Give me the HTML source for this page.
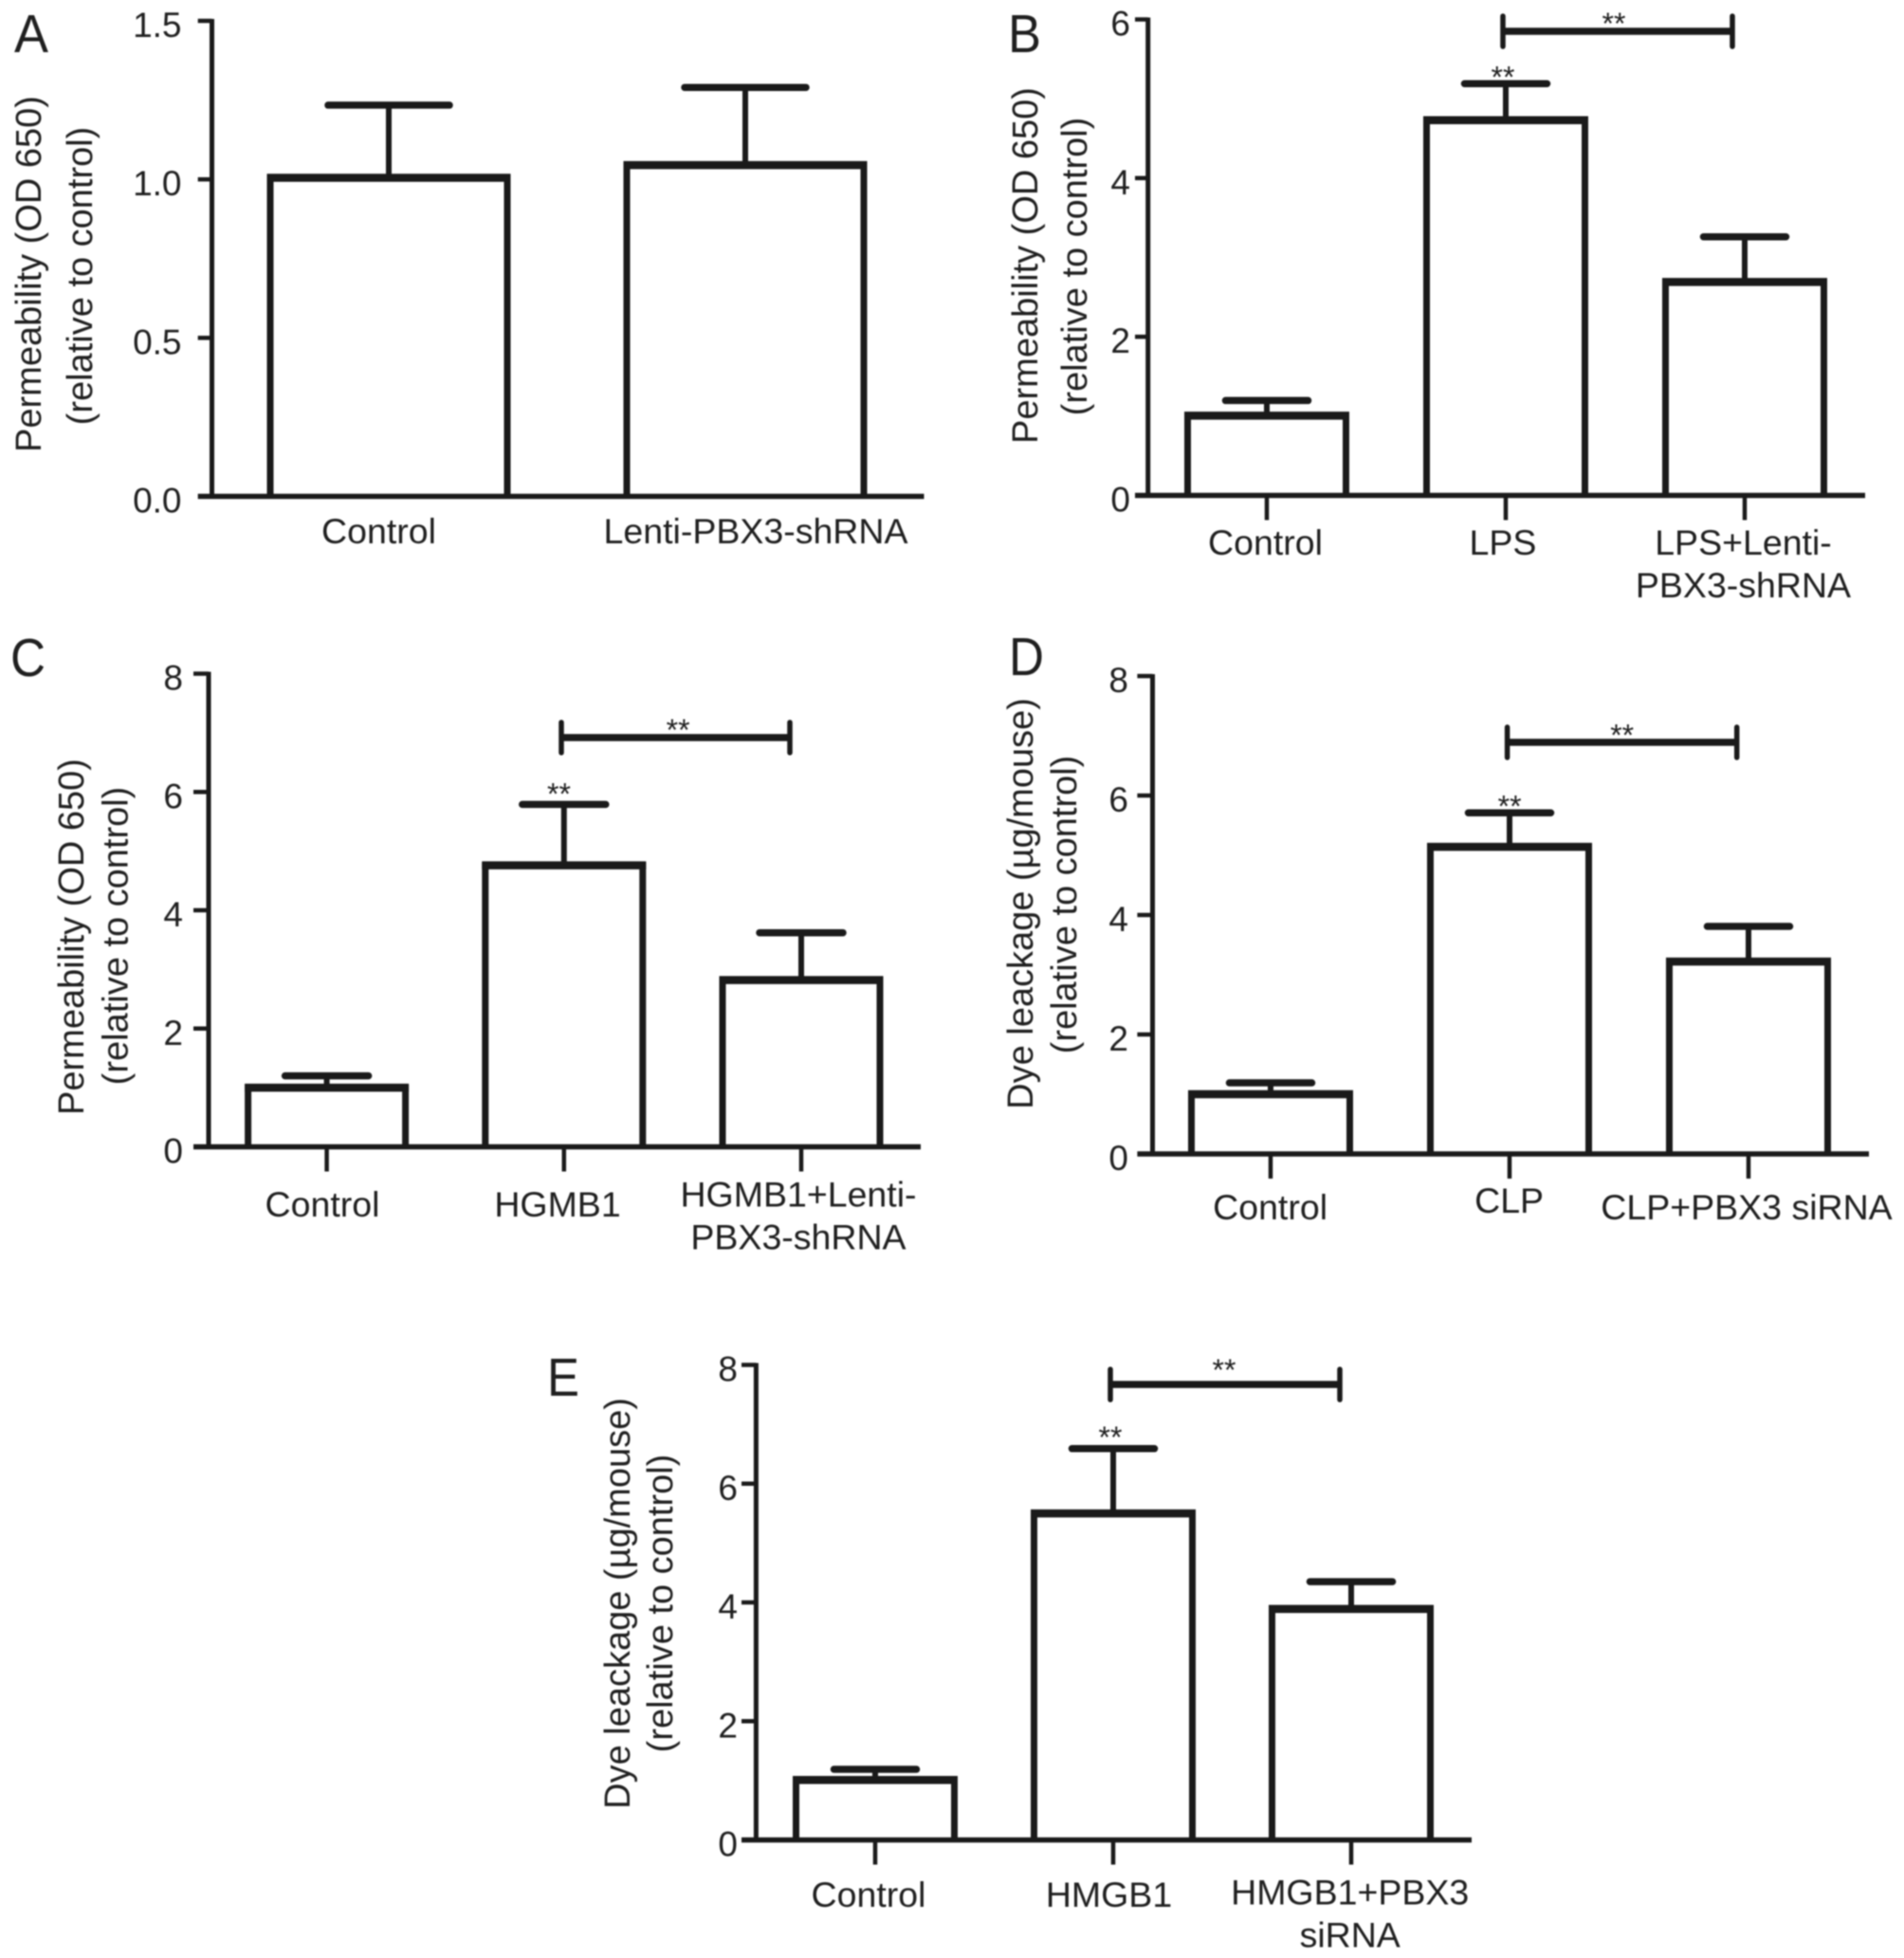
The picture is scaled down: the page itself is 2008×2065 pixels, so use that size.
<!DOCTYPE html>
<html lang="en">
<head>
<meta charset="utf-8">
<title>Permeability and dye leakage bar charts</title>
<style>
html,body{margin:0;padding:0;background:#fff;}
#figure{display:block;width:2008px;height:2065px;filter:blur(0.7px);}
text{font-family:"Liberation Sans",sans-serif;fill:#1f1f1f;}
</style>
</head>
<body>
<svg id="figure" xmlns="http://www.w3.org/2000/svg" width="2008" height="2065" viewBox="0 0 2008 2065"></svg>
<script>
// ---- Panel A data ----
const panelACategories = ['Control', 'Lenti-PBX3-shRNA'];
const panelAMeans = [1.005, 1.045];
const panelAErrorTops = [1.234, 1.29];
const panelATicks = ['0.0', '0.5', '1.0', '1.5'];

// ---- Panel B data ----
const panelBCategories = ['Control', 'LPS', 'LPS+Lenti-\nPBX3-shRNA'];
const panelBMeans = [1.005, 4.73, 2.69];
const panelBErrorTops = [1.196, 5.19, 3.26];
const panelBTicks = ['0', '2', '4', '6'];
const panelBBracketLevel = 5.85;

// ---- Panel C data ----
const panelCCategories = ['Control', 'HGMB1', 'HGMB1+Lenti-\nPBX3-shRNA'];
const panelCMeans = [1.0, 4.76, 2.82];
const panelCErrorTops = [1.2, 5.79, 3.62];
const panelCTicks = ['0', '2', '4', '6', '8'];
const panelCBracketLevel = 6.92;

// ---- Panel D data ----
const panelDCategories = ['Control', 'CLP', 'CLP+PBX3 siRNA'];
const panelDMeans = [1.0, 5.14, 3.22];
const panelDErrorTops = [1.19, 5.71, 3.81];
const panelDTicks = ['0', '2', '4', '6', '8'];
const panelDBracketLevel = 6.89;

// ---- Panel E data ----
const panelECategories = ['Control', 'HMGB1', 'HMGB1+PBX3\nsiRNA'];
const panelEMeans = [1.01, 5.5, 3.89];
const panelEErrorTops = [1.19, 6.59, 4.35];
const panelETicks = ['0', '2', '4', '6', '8'];
const panelEBracketLevel = 7.67;

const titlePermeability = ['Permeability (OD 650)', '(relative to control)'];
const titleDye = ['Dye leackage (\u00b5g/mouse)', '(relative to control)'];

const svg = document.getElementById('figure');
const NS = 'http://www.w3.org/2000/svg';
const INK = '#1a1a1a';

function line(parent, x1, y1, x2, y2, w, cap) {
  const l = document.createElementNS(NS, 'line');
  l.setAttribute('x1', x1);
  l.setAttribute('y1', y1);
  l.setAttribute('x2', x2);
  l.setAttribute('y2', y2);
  l.setAttribute('stroke', INK);
  l.setAttribute('stroke-width', w);
  l.setAttribute('stroke-linecap', cap || 'butt');
  parent.appendChild(l);
  return l;
}
function label(parent, str, x, y, size, anchor) {
  const t = document.createElementNS(NS, 'text');
  t.setAttribute('x', x);
  t.setAttribute('y', y);
  t.setAttribute('font-size', size);
  t.setAttribute('text-anchor', anchor || 'middle');
  t.textContent = str;
  parent.appendChild(t);
  return t;
}
function group(parent, name) {
  const g = document.createElementNS(NS, 'g');
  
  
  parent.appendChild(g);
  return g;
}

function drawPanel(p) {
  const root = group(svg, 'panel-' + p.id);
  const tickValues = p.ticks.map(Number);
  const yMax = Math.max.apply(null, tickValues);
  const yScale = v => p.y0 - (v / yMax) * (p.y0 - p.yTop);
  const xScale = i => p.x0 + i * p.step;

  // panel letter
  const letter = label(root, p.id.toUpperCase(), p.letterX, p.letterY, 57, 'start');
  letter.setAttribute('textLength', p.letterW);
  letter.setAttribute('lengthAdjust', 'spacingAndGlyphs');
  
  

  // y axis title
  p.title.forEach((str, i) => {
    const t = label(root, str, 0, 0, 38);
    t.setAttribute('transform', 'translate(' + p.titleX[i] + ',' + p.titleY[i] + ') rotate(-90)');
    
    
  });

  // bars, error bars
  p.means.forEach((m, i) => {
    const cx = xScale(i);
    const g = group(root, 'bar-' + (i + 1));
    const r = document.createElementNS(NS, 'path');
    const left = cx - p.barW / 2, right = cx + p.barW / 2;
    r.setAttribute('d', 'M' + left + ' ' + p.y0 + 'V' + yScale(m) + 'H' + right + 'V' + p.y0);
    r.setAttribute('fill', '#fff');
    r.setAttribute('stroke', INK);
    r.setAttribute('stroke-width', 7);
    r.setAttribute('stroke-linejoin', 'miter');
    
    
    g.appendChild(r);
    const top = line(g, left - 3.5, yScale(m), right + 3.5, yScale(m), 8.5);
    
    
    const stem = line(g, cx, yScale(p.errs[i]), cx, yScale(m), 6);
    
    
    const capLine = line(g, cx - p.capW / 2, yScale(p.errs[i]), cx + p.capW / 2, yScale(p.errs[i]), 7.5, 'round');
    
    
  });

  // axes
  const yAxis = line(root, p.axisX, p.yTop - 2, p.axisX, p.y0, 5);
  
  
  const xAxis = line(root, p.tickLeft, p.y0, p.xEnd, p.y0, 5.5);
  
  

  // y ticks and labels
  p.ticks.forEach((tick, i) => {
    const y = yScale(tickValues[i]);
    if (i > 0) {
      const t = line(root, p.tickLeft, y, p.axisX, y, 4.5);
      
      
    }
    const txt = label(root, tick, p.tickLabelX, y + 17, 37, 'end');
    
    
  });

  // x ticks and category labels
  p.categories.forEach((cat, i) => {
    if (p.xTickLen) {
      const t = line(root, xScale(i), p.y0, xScale(i), p.y0 + p.xTickLen, 4.5);
      
      
    }
    cat.split('\n').forEach((ln, k) => {
      const txt = label(root, ln, xScale(i) + p.catDx[i], p.catY[i] + k * 45, 37.5);
      
      
    });
  });

  // significance marks
  if (p.bracketLevel !== undefined) {
    const by = yScale(p.bracketLevel);
    const bg = group(root, 'significance-bracket');
    const bx1 = xScale(1) + p.bracketDx[0], bx2 = xScale(2) + p.bracketDx[1];
    line(bg, bx1, by, bx2, by, 7.5);
    line(bg, bx1, by - 16, bx1, by + 16, 5.5, 'round');
    line(bg, bx2, by - 16, bx2, by + 16, 5.5, 'round');
    const s1 = label(bg, '**', (bx1 + bx2) / 2 + p.starDx[0], by - p.bracketStarGap + 18, 32);
    
    
    const s2 = label(root, '**', xScale(1) + p.bracketDx[0] + p.starDx[1], yScale(p.errs[1]) - p.barStarGap + 18, 32);
    
    
  }
}

drawPanel({ id: 'a', categories: panelACategories, means: panelAMeans, errs: panelAErrorTops, ticks: panelATicks, title: titlePermeability,
  y0: 523.5, yTop: 22, x0: 410, step: 376, barW: 250, capW: 128, axisX: 223.5, tickLeft: 208.7, xEnd: 974.5, tickLabelX: 191.5, xTickLen: 0,
  catDx: [-10.5, 11], catY: [573, 573], titleX: [43, 97], titleY: [289, 291], letterX: 15, letterY: 55, letterW: 36 });

drawPanel({ id: 'b', categories: panelBCategories, means: panelBMeans, errs: panelBErrorTops, ticks: panelBTicks, title: titlePermeability, bracketLevel: panelBBracketLevel,
  y0: 522.5, yTop: 20.5, x0: 1336, step: 252, barW: 167, capW: 87, axisX: 1210.7, tickLeft: 1197, xEnd: 1967, tickLabelX: 1192, xTickLen: 26,
  catDx: [-1.5, -3, -1.5], catY: [585, 585, 585], titleX: [1094, 1146], titleY: [280, 281], letterX: 1063, letterY: 55, letterW: 35,
  bracketDx: [-3, -13], starDx: [-4, 0], bracketStarGap: 15, barStarGap: 14 });

drawPanel({ id: 'c', categories: panelCCategories, means: panelCMeans, errs: panelCErrorTops, ticks: panelCTicks, title: titlePermeability, bracketLevel: panelCBracketLevel,
  y0: 1209.5, yTop: 710.5, x0: 344.6, step: 250.2, barW: 166, capW: 88, axisX: 220, tickLeft: 204, xEnd: 971, tickLabelX: 193, xTickLen: 26,
  catDx: [-4.6, -6.8, -3], catY: [1283, 1283, 1272.5], titleX: [88, 134.5], titleY: [988, 987], letterX: 11, letterY: 713, letterW: 37,
  bracketDx: [-2.8, -12], starDx: [2.6, -2.5], bracketStarGap: 15, barStarGap: 18 });

drawPanel({ id: 'd', categories: panelDCategories, means: panelDMeans, errs: panelDErrorTops, ticks: panelDTicks, title: titleDye, bracketLevel: panelDBracketLevel,
  y0: 1217, yTop: 713, x0: 1340, step: 252, barW: 167, capW: 87, axisX: 1215.5, tickLeft: 1199.4, xEnd: 1971, tickLabelX: 1190, xTickLen: 26,
  catDx: [-0.4, -0.4, -2], catY: [1286, 1279, 1286], titleX: [1089, 1135], titleY: [953, 954], letterX: 1064, letterY: 712, letterW: 37,
  bracketDx: [-2.4, -12.3], starDx: [0, 2.5], bracketStarGap: 14.5, barStarGap: 14 });

drawPanel({ id: 'e', categories: panelECategories, means: panelEMeans, errs: panelEErrorTops, ticks: panelETicks, title: titleDye, bracketLevel: panelEBracketLevel,
  y0: 1940.5, yTop: 1439.5, x0: 923, step: 251, barW: 167, capW: 87, axisX: 797.4, tickLeft: 782, xEnd: 1552, tickLabelX: 778, xTickLen: 26,
  catDx: [-7, -4.5, -1.3], catY: [2011, 2011, 2008.5], titleX: [664, 709], titleY: [1691, 1691], letterX: 577, letterY: 1472, letterW: 34,
  bracketDx: [-3, -12], starDx: [-1, 0], bracketStarGap: 22, barStarGap: 19 });
</script>
</body>
</html>
